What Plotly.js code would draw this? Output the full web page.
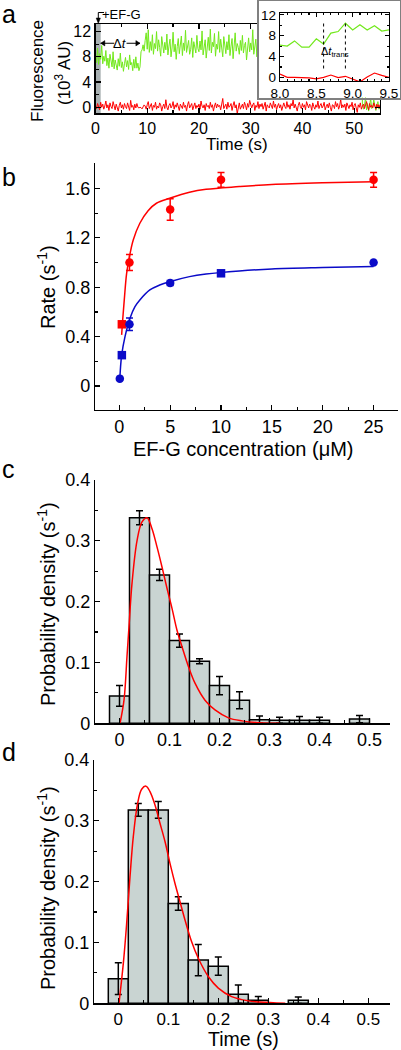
<!DOCTYPE html>
<html><head><meta charset="utf-8">
<script src="https://cdn.plot.ly/plotly-3.0.1.min.js"></script>
<style>html,body{margin:0;padding:0;background:#fff;}#chart{width:401px;height:1050px;}</style>
</head><body><div id="chart"></div>
<script>
// ---------- DATA ----------
// Panel a: fluorescence traces (10^3 AU), sampled every 0.2 s from 0 s
const traceT0 = 0, traceDt = 0.2;
const greenTrace = [
8.2,7.1,9.4,6.8,8.5,7.6,9.8,6.9,8.1,7.3,
9.0,6.6,7.8,6.2,8.4,7.0,6.4,8.8,6.1,7.5,
6.8,5.9,7.7,6.5,8.6,6.3,7.2,5.7,6.9,7.9,
6.4,7.4,6.0,8.3,6.7,7.1,5.8,7.6,6.2,8.0,
6.2,7.0,5.8,6.4,8.8,9.1,9.9,8.9,10.6,11.8,
9.2,12.3,8.7,10.4,9.0,11.5,8.4,10.1,9.3,12.0,
8.9,10.7,9.5,8.1,11.2,9.8,8.6,10.3,9.1,11.6,
8.3,9.7,10.8,8.0,9.4,11.9,8.8,10.0,7.6,9.6,
10.9,8.5,9.9,11.3,8.2,10.2,9.0,12.2,8.7,9.5,
10.6,8.4,9.2,11.0,7.9,10.4,9.7,8.6,11.4,9.3,
8.8,10.5,9.1,12.1,8.3,9.8,10.7,7.8,9.4,11.1,
9.0,12.4,8.6,10.3,9.6,11.7,8.1,10.0,9.2,12.0,
8.7,10.8,9.4,8.0,11.2,9.9,8.5,10.4,9.1,11.5,
8.2,9.7,10.9,7.7,9.3,11.8,8.9,10.1,9.5,8.4,
10.6,9.0,11.4,8.6,9.8,10.3,7.5,9.6,11.0,8.8,
10.2,9.1,12.3,8.4,9.7,10.8,8.0,11.6,9.3,10.0,
8.9,10.5,9.2,11.1,8.6,9.9,10.4,8.3,9.6,11.3,
9.0,10.7,8.7,9.5,11.0,8.2,10.1,9.4,10.9,8.8,
9.8,11.5,8.5,10.2,9.1,10.6,8.4,9.9,11.2,9.3,
8.6,10.3,9.7,11.4,8.9,10.0,9.2,8.1,10.8,9.5,
11.0,8.7,9.6,10.4,8.3,11.7,9.0,10.1,8.8,9.9,
10.6,9.3,8.5,11.2,9.8,10.2,8.9,9.4,11.5,8.6,
9.7,10.9,9.1,8.4,10.5,9.6,11.1,8.8,10.0,9.2,
11.3,8.7,9.9,10.3,9.0,8.2,10.7,9.5,11.0,9.3,
8.9,10.4,9.6,11.6,8.6,10.1,9.4,8.8,10.8,9.7,
9.1,10.5,8.4,9.9,11.2,9.5,9.0,10.3,0.5,-0.3,
0.2,1.6,-0.4,0.6,-0.6,0.3,1.4,-0.2,0.1,1.2,
0.0,-0.5,0.4,0.9,-0.3,0.2];
const redTrace = [
0.3,-0.2,0.6,0.1,-0.4,0.8,0.0,0.5,-0.3,0.2,
1.0,-0.1,0.4,-0.5,0.7,0.1,-0.2,0.9,0.2,-0.4,
0.5,0.0,-0.6,0.3,0.8,-0.1,0.4,-0.3,0.6,0.1,
-0.2,0.7,0.2,-0.5,1.1,0.0,0.3,-0.4,0.5,-0.1,
0.6,0.0,-0.1,0.0,-0.05,-0.25,0.07,0.38,0.2,-0.3,
0.4,0.9,-0.2,0.1,0.6,-0.5,0.3,0.0,0.8,-0.3,
0.2,-0.1,0.7,0.4,-0.6,0.1,0.5,-0.2,1.2,0.0,
-0.4,0.3,0.6,-0.1,0.2,0.9,-0.3,0.4,0.0,0.7,
0.1,-0.5,0.5,0.2,-0.2,0.8,0.0,0.3,-0.6,0.4,
0.9,-0.1,0.2,0.6,-0.4,0.1,0.7,-0.2,0.3,0.0,
0.5,-0.3,1.0,0.2,-0.1,0.4,-0.5,0.6,0.1,0.3,
-0.2,0.8,0.0,0.4,-0.6,0.2,0.7,-0.1,0.5,0.1,
0.3,-0.4,0.6,1.4,-0.2,0.1,0.5,-0.3,0.8,0.0,
0.2,0.6,-0.5,0.3,0.9,-0.1,0.4,-1.0,0.2,0.7,
-0.3,0.1,0.5,-0.2,0.8,0.3,-0.4,0.6,0.0,1.1,
0.2,-0.1,0.4,0.7,-0.5,0.3,0.0,0.9,-0.2,0.5,
0.1,0.6,-0.3,0.2,0.8,-0.6,0.4,0.1,-0.1,0.7,
0.3,-0.2,1.0,0.0,0.5,-0.4,0.2,0.6,-0.1,0.4,
-0.5,0.3,0.7,0.1,-0.2,0.9,0.0,0.4,-0.3,0.6,
0.2,1.2,-0.1,0.5,0.0,-0.6,0.3,0.8,0.1,-0.2,
0.6,0.0,0.4,-0.4,0.9,0.2,-0.1,0.5,0.3,-0.5,
0.7,0.1,-0.3,0.4,0.0,1.0,-0.2,0.3,0.6,-0.1,
0.2,0.8,-0.4,0.1,0.5,-0.1,0.7,0.0,-0.6,0.4,
0.3,-0.2,0.9,0.1,0.6,-0.3,0.2,1.3,-0.1,0.4,
0.0,0.5,-0.5,0.7,0.2,-0.2,0.4,0.1,0.8,-0.4,
0.3,0.6,-0.1,-0.8,0.4,0.0,0.7,-0.3,0.2,0.5,
-0.2,0.4,0.9,0.1,-0.4,0.6,0.0,0.3,-0.1,0.7,
0.2,-0.3,0.5,0.0,0.4,-0.2];
const injectWindow = [0, 1];          // s, grey band (+EF-G)
const dwellWindow = [1, 8.6];         // s, Δt arrow
const dwellArrowLevel = 10.15;

// Inset (8.0 - 9.5 s, 0.1 s steps)
const insetT = [8.0,8.1,8.2,8.3,8.4,8.5,8.6,8.7,8.8,8.9,9.0,9.1,9.2,9.3,9.4,9.5];
const insetGreen = [6.2,6.0,7.0,5.8,5.8,7.4,6.4,8.5,8.8,10.4,9.1,10.1,9.1,9.9,8.9,9.1];
const insetRed = [0.63,0.0,0.0,0.0,-0.1,-0.3,0.0,0.45,-0.05,0.2,-0.25,-0.87,0.07,0.83,0.38,0.0];
const transMarks = [8.6, 8.9];
const transMarkSpan = [1.7, 10.7];

// Panel b: rates vs EF-G concentration
const redConc = [0.25, 1, 5, 10, 25];
const redRate = [0.50, 1.00, 1.43, 1.67, 1.67];
const redErr = [0.01, 0.065, 0.087, 0.06, 0.06];
const redSymbols = ['square','circle','circle','circle','circle'];
const blueConc = [0.05, 0.25, 1, 5, 10, 25];
const blueRate = [0.06, 0.25, 0.50, 0.835, 0.913, 1.00];
const blueErr = [0, 0.01, 0.05, 0.02, 0.01, 0];
const blueSymbols = ['circle','square','circle','circle','square','circle'];
const redFitX = [0.23,0.33,0.49,0.72,1.0,1.37,2.02,2.83,3.65,4.95,6.9,8.53,11.8,15,20,25];
const redFitY = [0.414,0.535,0.70,0.913,1.048,1.183,1.318,1.42,1.48,1.52,1.569,1.593,1.615,1.632,1.646,1.655];
const blueFitX = [0.05,0.23,0.56,1.05,1.54,2.02,3.0,3.97,4.95,6.9,8.53,11.8,15,20,25];
const blueFitY = [0.06,0.25,0.40,0.549,0.643,0.697,0.778,0.818,0.845,0.886,0.907,0.932,0.948,0.959,0.967];

// Panel c: histogram
const cBins = [0,0.04,0.08,0.12,0.16,0.20,0.24,0.28,0.32,0.36,0.40,0.48];
const cDensity = [0.045,0.338,0.244,0.136,0.102,0.062,0.038,0.006,0.005,0.005,0.005,0.007];
const cErr = [0.017,0.0115,0.0093,0.011,0.004,0.015,0.014,0.006,0.005,0.006,0.005,0.006];
const cFitT = [0.001,0.009,0.015,0.019,0.025,0.035,0.045,0.055,0.065,0.075,0.085,0.095,0.105,0.115,0.125,0.138,0.151,0.171,0.191,0.218,0.245,0.278,0.32];
const cFitP = [0,0.038,0.11,0.159,0.23,0.30,0.331,0.338,0.32,0.29,0.257,0.222,0.189,0.153,0.126,0.093,0.066,0.038,0.022,0.009,0.004,0.001,0];

// Panel d: histogram
const dBins = [0,0.04,0.08,0.12,0.16,0.20,0.24,0.28,0.36];
const dDensity = [0.0405,0.318,0.318,0.164,0.071,0.061,0.015,0.005,0.005];
const dErr = [0.026,0.0104,0.0137,0.011,0.0257,0.015,0.015,0.006,0.0055];
const dFitT = [0.0014,0.0101,0.0167,0.0234,0.030,0.0387,0.0467,0.0554,0.0634,0.0734,0.0834,0.0934,0.1034,0.1134,0.1234,0.1334,0.1467,0.16,0.18,0.2,0.2267,0.26,0.283,0.334];
const dFitP = [0,0.066,0.131,0.208,0.274,0.329,0.352,0.357,0.348,0.326,0.296,0.266,0.230,0.197,0.167,0.137,0.101,0.074,0.044,0.025,0.011,0.004,0.002,0];

// ---------- LAYOUT HELPERS ----------
const W = 401, H = 1050;
const fx = p => p / W;
const fy = p => 1 - p / H;
const FONT = 'Arial, "Liberation Sans", sans-serif';
const GREEN = '#72e81c', RED = '#ff0000', BLUE = '#0a0ac8', BARFILL = '#c9d4d2';
const TICK = 18, TITLE = 20;

function ax(extra) {
  return Object.assign({
    showline: true, linecolor: '#000', linewidth: 1.2, ticks: 'inside', ticklen: 5,
    tickcolor: '#000', tickwidth: 1.2, showgrid: false, zeroline: false,
    tickfont: {family: FONT, size: TICK, color: '#000'},
  }, extra);
}

const traces = [
  // panel a
  {x0: traceT0, dx: traceDt, y: greenTrace, type: 'scatter', mode: 'lines', line: {color: GREEN, width: 1}, xaxis: 'x', yaxis: 'y', hoverinfo: 'skip'},
  {x0: traceT0, dx: traceDt, y: redTrace, type: 'scatter', mode: 'lines', line: {color: RED, width: 1}, xaxis: 'x', yaxis: 'y', hoverinfo: 'skip'},
  // inset box (empty subplot that masks the main panel)
  {x: [], y: [], type: 'scatter', xaxis: 'x2', yaxis: 'y2'},
  // inset
  {x: insetT, y: insetGreen, type: 'scatter', mode: 'lines', line: {color: GREEN, width: 1.2}, xaxis: 'x3', yaxis: 'y3'},
  {x: insetT, y: insetRed, type: 'scatter', mode: 'lines', line: {color: RED, width: 1.2}, xaxis: 'x3', yaxis: 'y3'},
  // panel b
  {x: redFitX, y: redFitY, type: 'scatter', mode: 'lines', line: {color: RED, width: 1.5, shape: 'spline'}, xaxis: 'x4', yaxis: 'y4'},
  {x: blueFitX, y: blueFitY, type: 'scatter', mode: 'lines', line: {color: BLUE, width: 1.5, shape: 'spline'}, xaxis: 'x4', yaxis: 'y4'},
  {x: redConc, y: redRate, type: 'scatter', mode: 'markers', marker: {color: RED, size: 8.5, symbol: redSymbols},
   error_y: {type: 'data', array: redErr, color: RED, thickness: 1.5, width: 3.5}, xaxis: 'x4', yaxis: 'y4'},
  {x: blueConc, y: blueRate, type: 'scatter', mode: 'markers', marker: {color: BLUE, size: 8.5, symbol: blueSymbols},
   error_y: {type: 'data', array: blueErr, color: BLUE, thickness: 1.5, width: 3.5}, xaxis: 'x4', yaxis: 'y4'},
  // panel c
  {x: cBins, y: cDensity, type: 'bar', width: 0.04, marker: {color: BARFILL, line: {color: '#000', width: 1.5}},
   error_y: {type: 'data', array: cErr, color: '#000', thickness: 1.5, width: 3.5}, xaxis: 'x5', yaxis: 'y5'},
  {x: cFitT, y: cFitP, type: 'scatter', mode: 'lines', line: {color: RED, width: 1.5, shape: 'spline'}, xaxis: 'x5', yaxis: 'y5'},
  // panel d
  {x: dBins, y: dDensity, type: 'bar', width: 0.04, marker: {color: BARFILL, line: {color: '#000', width: 1.5}},
   error_y: {type: 'data', array: dErr, color: '#000', thickness: 1.5, width: 3.5}, xaxis: 'x6', yaxis: 'y6'},
  {x: dFitT, y: dFitP, type: 'scatter', mode: 'lines', line: {color: RED, width: 1.5, shape: 'spline'}, xaxis: 'x6', yaxis: 'y6'},
];

function title(text, x, y, size, angle) {
  return {text: text, xref: 'paper', yref: 'paper', x: fx(x), y: fy(y), xanchor: 'center', yanchor: 'middle',
          showarrow: false, textangle: angle || 0, font: {family: FONT, size: size, color: '#000'}};
}

const annotations = [
  title('a', 9, 14, 25), title('b', 9, 177, 25), title('c', 8, 469, 25), title('d', 9, 752, 25),
  title('Fluorescence', 38, 71, 17, -90),
  title('(10<sup>3</sup> AU)', 63, 73, 17, -90),
  title('Time (s)', 237, 145, 17),
  title('Rate (s<sup>-1</sup>)', 46, 287, TITLE, -90),
  title('EF-G concentration (μM)', 243, 449, TITLE),
  title('Probability density (s<sup>-1</sup>)', 46, 604, TITLE, -90),
  title('Probability density (s<sup>-1</sup>)', 46, 888, TITLE, -90),
  title('Time (s)', 243, 1038.5, 19.5),
  title('+EF-G', 121, 15, 13),
  {text: 'Δ<i>t</i>', xref: 'x', yref: 'y', x: (dwellWindow[0] + dwellWindow[1]) / 2, y: dwellArrowLevel, showarrow: false,
   font: {family: FONT, size: 13, color: '#000'}},
  {text: 'Δ<i>t</i><sub>trans</sub>', xref: 'x3', yref: 'y3', x: (transMarks[0] + transMarks[1]) / 2, y: 4.9,
   showarrow: false, font: {family: FONT, size: 11, color: '#000'}},
];

// arrow decorations (shapes)
const hx = 0.8, hy = 0.42;   // arrowhead half-size in panel-a data units
const L = dwellWindow[0], R = dwellWindow[1], Y = dwellArrowLevel;
const P = (x, y) => fx(x) + ',' + fy(y);
const shapes = [
  {type: 'rect', xref: 'x', yref: 'y domain', x0: injectWindow[0], x1: injectWindow[1], y0: 0, y1: 1,
   fillcolor: '#a8b0b2', line: {width: 0}, layer: 'below'},
  // Δt double arrow
  {type: 'line', xref: 'x', yref: 'y', x0: L, x1: L + 2.6, y0: Y, y1: Y, line: {color: '#000', width: 1}},
  {type: 'line', xref: 'x', yref: 'y', x0: R - 2.6, x1: R, y0: Y, y1: Y, line: {color: '#000', width: 1}},
  {type: 'path', xref: 'x', yref: 'y', path: `M${L},${Y} L${L + hx},${Y + hy} L${L + hx},${Y - hy} Z`, fillcolor: '#000', line: {color: '#000', width: 0.5}},
  {type: 'path', xref: 'x', yref: 'y', path: `M${R},${Y} L${R - hx},${Y + hy} L${R - hx},${Y - hy} Z`, fillcolor: '#000', line: {color: '#000', width: 0.5}},
  // +EF-G bent arrow
  {type: 'path', xref: 'paper', yref: 'paper', path: `M${P(104, 12.5)} L${P(98.3, 12.5)} L${P(98.3, 19)}`, line: {color: '#000', width: 1}},
  {type: 'path', xref: 'paper', yref: 'paper', path: `M${P(96.2, 18)} L${P(100.4, 18)} L${P(98.3, 23.5)} Z`, fillcolor: '#000', line: {color: '#000', width: 0.5}},
  // inset dotted markers
  {type: 'line', xref: 'x3', yref: 'y3', x0: transMarks[0], x1: transMarks[0], y0: transMarkSpan[0], y1: transMarkSpan[1], line: {color: '#000', width: 1, dash: 'dot'}},
  {type: 'line', xref: 'x3', yref: 'y3', x0: transMarks[1], x1: transMarks[1], y0: transMarkSpan[0], y1: transMarkSpan[1], line: {color: '#000', width: 1, dash: 'dot'}},
];

const layout = {
  width: W, height: H, margin: {l: 0, r: 0, t: 0, b: 0}, showlegend: false,
  paper_bgcolor: '#fff', plot_bgcolor: '#fff', font: {family: FONT, color: '#000'},
  xaxis: ax({domain: [fx(95.5), fx(380)], range: [0, 55], dtick: 10, tick0: 0, mirror: 'ticks',
             minor: {dtick: 5, ticklen: 3, ticks: 'inside'}, tickfont: {family: FONT, size: 16}}),
  yaxis: ax({domain: [fy(113.3), fy(24)], range: [-0.95, 13.2], dtick: 4, tick0: 0, mirror: 'ticks',
             minor: {dtick: 2, ticklen: 3, ticks: 'inside'}, tickfont: {family: FONT, size: 16}}),
  xaxis2: {domain: [fx(259), fx(399.5)], anchor: 'y2', range: [0, 1], showline: true, mirror: true, linecolor: '#808080',
           linewidth: 2, showticklabels: false, ticks: '', showgrid: false, zeroline: false},
  yaxis2: {domain: [fy(97.5), fy(0.8)], anchor: 'x2', range: [0, 1], showline: true, mirror: true, linecolor: '#808080',
           linewidth: 2, showticklabels: false, ticks: '', showgrid: false, zeroline: false},
  xaxis3: ax({domain: [fx(280), fx(389)], anchor: 'y3', range: [8, 9.5], dtick: 0.5, tick0: 8, tickformat: '.1f',
              mirror: 'ticks', ticklen: 4, minor: {dtick: 0.1, ticklen: 2, ticks: 'inside'}, tickfont: {family: FONT, size: 13.5}}),
  yaxis3: ax({domain: [fy(81), fy(13.3)], anchor: 'x3', range: [-0.7, 12.3], dtick: 4, tick0: 0,
              mirror: 'ticks', ticklen: 4, minor: {dtick: 2, ticklen: 2, ticks: 'inside'}, tickfont: {family: FONT, size: 13.5}}),
  xaxis4: ax({domain: [fx(95), fx(398)], anchor: 'y4', range: [-2.39, 27.4], dtick: 5, tick0: 0,
              minor: {dtick: 2.5, ticklen: 3, ticks: 'inside'}}),
  yaxis4: ax({domain: [fy(410), fy(163)], anchor: 'x4', range: [-0.194, 1.806], dtick: 0.4, tick0: 0,
              minor: {dtick: 0.2, ticklen: 3, ticks: 'inside'}}),
  xaxis5: ax({domain: [fx(95), fx(390)], anchor: 'y5', range: [-0.049, 0.541], dtick: 0.1, tick0: 0,
              minor: {dtick: 0.05, ticklen: 3, ticks: 'inside'}}),
  yaxis5: ax({domain: [fy(723.3), fy(480)], anchor: 'x5', range: [0, 0.4], dtick: 0.1, tick0: 0,
              minor: {dtick: 0.05, ticklen: 3, ticks: 'inside'}}),
  xaxis6: ax({domain: [fx(94), fx(390)], anchor: 'y6', range: [-0.0486, 0.5434], dtick: 0.1, tick0: 0,
              minor: {dtick: 0.05, ticklen: 3, ticks: 'inside'}, tickfont: {family: FONT, size: 17, color: '#000'}}),
  yaxis6: ax({domain: [fy(1003.3), fy(760)], anchor: 'x6', range: [0, 0.4], dtick: 0.1, tick0: 0,
              minor: {dtick: 0.05, ticklen: 3, ticks: 'inside'}}),
  annotations: annotations,
  shapes: shapes,
};

Plotly.newPlot('chart', traces, layout, {staticPlot: true, displayModeBar: false});
</script></body></html>
